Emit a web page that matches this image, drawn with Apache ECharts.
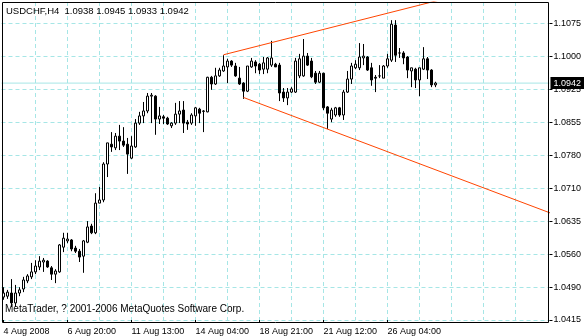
<!DOCTYPE html>
<html><head><meta charset="utf-8">
<script src="https://cdn.jsdelivr.net/npm/echarts@6/dist/echarts.min.js"></script>
<style>html,body{margin:0;padding:0;background:#fff}#c{width:584px;height:336px}</style>
</head><body><div id="c"></div>
<script>
// USDCHF H4 candles (open, close, low, high)
const opens = [1.0466,1.0468,1.0475,1.0453,1.0475,1.0484,1.0502,1.0511,1.0522,1.0533,1.0544,1.0546,1.0531,1.0517,1.0522,1.0577,1.0591,1.0593,1.0575,1.0568,
1.0557,1.0588,1.0624,1.0609,1.0675,1.0682,1.0762,1.0806,1.0798,1.0824,1.0813,1.0806,1.0775,1.0800,1.0853,1.0869,1.0880,1.0913,1.0913,1.0862,
1.0867,1.0864,1.0847,1.0853,1.0873,1.0882,1.0855,1.0853,1.0869,1.0884,1.0879,1.0878,1.0955,1.0940,1.0958,1.0969,1.0978,1.0991,1.0980,1.0953,
1.0942,1.0924,1.0978,1.0989,1.0984,1.0973,1.0973,1.0982,1.0984,1.0982,1.0922,1.0909,1.0922,1.0922,1.0958,1.0958,1.1002,1.0991,1.0964,1.0944,
1.0964,1.0889,1.0862,1.0871,1.0887,1.0871,1.0922,1.0951,1.0976,1.0976,1.0998,1.1000,1.0976,1.0955,1.0958,1.0953,1.0980,1.0993,1.1071,1.1009,
1.1009,1.1000,1.0969,1.0973,1.0949,1.0973,1.0996,1.0971,1.0938];
const closes = [1.0475,1.0477,1.0453,1.0475,1.0482,1.0504,1.0513,1.0522,1.0535,1.0546,1.0548,1.0533,1.0517,1.0524,1.0582,1.0597,1.0595,1.0573,1.0568,1.0555,
1.0591,1.0622,1.0609,1.0675,1.0682,1.0762,1.0809,1.0800,1.0824,1.0813,1.0804,1.0784,1.0802,1.0853,1.0869,1.0880,1.0913,1.0915,1.0862,1.0869,
1.0864,1.0851,1.0853,1.0873,1.0880,1.0853,1.0851,1.0871,1.0887,1.0875,1.0880,1.0955,1.0940,1.0958,1.0971,1.0980,1.0991,1.0982,1.0958,1.0940,
1.0924,1.0980,1.0991,1.0980,1.0971,1.0987,1.0998,1.0998,1.0978,1.0920,1.0909,1.0922,1.0929,1.0991,1.0996,1.1002,1.0982,1.0956,1.0944,1.0964,
1.0887,1.0875,1.0882,1.0887,1.0871,1.0922,1.0951,1.0980,1.0984,1.1000,1.1002,1.0971,1.0949,1.0953,1.0958,1.0980,1.0996,1.1073,1.1004,1.1009,
1.0998,1.0971,1.0976,1.0949,1.0976,1.0996,1.0971,1.0938,1.0942];
const lows = [1.0460,1.0462,1.0444,1.0444,1.0468,1.0477,1.0497,1.0506,1.0517,1.0526,1.0522,1.0531,1.0504,1.0497,1.0520,1.0566,1.0586,1.0568,1.0564,1.0544,
1.0520,1.0586,1.0606,1.0606,1.0675,1.0677,1.0733,1.0789,1.0793,1.0793,1.0800,1.0740,1.0773,1.0798,1.0849,1.0853,1.0875,1.0853,1.0827,1.0851,
1.0851,1.0849,1.0842,1.0849,1.0853,1.0831,1.0838,1.0849,1.0847,1.0853,1.0833,1.0877,1.0927,1.0938,1.0956,1.0967,1.0942,1.0978,1.0956,1.0938,
1.0907,1.0922,1.0976,1.0964,1.0962,1.0962,1.0964,1.0978,1.0978,1.0902,1.0900,1.0893,1.0920,1.0920,1.0953,1.0956,1.0980,1.0953,1.0940,1.0942,
1.0882,1.0840,1.0855,1.0867,1.0867,1.0860,1.0920,1.0940,1.0973,1.0971,1.0982,1.0969,1.0936,1.0922,1.0953,1.0953,1.0976,1.0989,1.0989,1.0998,
1.0984,1.0953,1.0933,1.0931,1.0913,1.0971,1.0951,1.0933,1.0933];
const highs = [1.0488,1.0482,1.0506,1.0493,1.0488,1.0511,1.0517,1.0542,1.0548,1.0557,1.0553,1.0548,1.0535,1.0528,1.0584,1.0609,1.0609,1.0595,1.0580,1.0573,
1.0593,1.0635,1.0629,1.0697,1.0711,1.0766,1.0809,1.0833,1.0831,1.0849,1.0844,1.0820,1.0824,1.0862,1.0878,1.0900,1.0920,1.0920,1.0915,1.0889,
1.0871,1.0867,1.0855,1.0898,1.0902,1.0902,1.0860,1.0875,1.0889,1.0887,1.0882,1.0956,1.0958,1.0976,1.0976,1.1004,1.0996,1.0993,1.0987,1.0978,
1.0944,1.0980,1.0998,1.0993,1.0987,1.1000,1.1000,1.1036,1.0987,1.0987,1.0931,1.0931,1.0933,1.0998,1.1007,1.1040,1.1009,1.0998,1.0969,1.0969,
1.0965,1.0891,1.0887,1.0889,1.0889,1.0927,1.0969,1.0987,1.0993,1.1031,1.1029,1.1002,1.0987,1.0960,1.0982,1.0982,1.1007,1.1082,1.1082,1.1020,
1.1013,1.1002,1.0976,1.0976,1.0976,1.1022,1.1000,1.0973,1.0945];

const slotCount = 137;                 // bar slots across the chart (incl. empty right shift)
const xTickIndex = [0,16,32,48,64,80,96];
const xTickLabels = ['4 Aug 2008','6 Aug 20:00','11 Aug 13:00','14 Aug 04:00','18 Aug 21:00','21 Aug 12:00','26 Aug 04:00'];
const yTickLabels = ['1.0415','1.0490','1.0560','1.0635','1.0710','1.0780','1.0855','1.0925','1.1000','1.1075'];
const upperTrend = [[55,1.1005],[110,1.1129]];
const lowerTrend = [[60,1.0910],[140,1.0642]];
const lastPrice = 1.0942;
const titleText = 'USDCHF,H4  1.0938 1.0945 1.0933 1.0942';
const footerText = 'MetaTrader, ? 2001-2006 MetaQuotes Software Corp.';

const categories = [];
for (let i = 0; i < slotCount; i++) categories.push(String(i));
const candleData = opens.map((o, i) => [o, closes[i], lows[i], highs[i]]);
const priceLine = [[-0.5, lastPrice], [136.5, lastPrice]];

const GRID = '#a6e6e6';
const FONT = 'Liberation Sans';
const chart = echarts.init(document.getElementById('c'), null, {renderer: 'canvas'});
chart.setOption({
  animation: false,
  backgroundColor: '#fff',
  grid: {left: 1.5, right: 34.5, top: 2, bottom: 16, containLabel: false},
  xAxis: [{
    type: 'category', data: categories, boundaryGap: true, offset: 3,
    axisLine: {show: false},
    axisTick: {show: true, length: 3, alignWithLabel: true,
      interval: (i) => xTickIndex.indexOf(i) >= 0, lineStyle: {color: '#000', width: 1}},
    axisLabel: {show: true, interval: (i) => xTickIndex.indexOf(i) >= 0, align: 'left', margin: 4,
      color: '#000', fontSize: 9, fontFamily: FONT,
      formatter: (v, i) => { const k = xTickIndex.indexOf(i); return k >= 0 ? xTickLabels[k] : ''; }},
    splitLine: {show: true, alignWithLabel: true, interval: (i) => i > 0 && i < 136 && i % 8 === 0,
      lineStyle: {color: GRID, type: [4, 3], width: 1}}
  }, {
    type: 'value', min: -0.5, max: 136.5, show: false
  }],
  yAxis: [{
    type: 'value', min: 1.0415, max: 1.11224, show: false, splitLine: {show: false}
  }, {
    type: 'value', min: 0, max: 9.646, interval: 1, position: 'right',
    axisLine: {show: false},
    axisTick: {show: true, length: 3, customValues: [0,1,2,3,4,5,6,7,8,9], lineStyle: {color: '#000'}},
    axisLabel: {show: true, customValues: [0,1,2,3,4,5,6,7,8,9], margin: 4, color: '#000', fontSize: 9, fontFamily: FONT,
      formatter: (v) => (Number.isInteger(v) && yTickLabels[v]) ? yTickLabels[v] : ''},
    splitLine: {show: true, lineStyle: {color: GRID, type: [4, 3], width: 1}}
  }],
  series: [{
    type: 'line', xAxisIndex: 1, yAxisIndex: 0, data: priceLine, symbol: 'none', clip: true, silent: true, z: 1,
    lineStyle: {color: GRID, width: 1, type: 'solid'},
    endLabel: {show: true, formatter: lastPrice.toFixed(4), color: '#fff', backgroundColor: '#000',
      padding: [2, 3, 1, 3], distance: 1, fontSize: 9, fontFamily: FONT}
  }, {
    type: 'candlestick', xAxisIndex: 0, yAxisIndex: 0, data: candleData, barWidth: 2, z: 2,
    itemStyle: {color: '#fff', color0: '#000', borderColor: '#000', borderColor0: '#000', borderColorDoji: '#000', borderWidth: 1},
    emphasis: {disabled: true}, silent: true
  }, {
    type: 'line', xAxisIndex: 1, yAxisIndex: 0, data: upperTrend, symbol: 'none', clip: true, silent: true,
    lineStyle: {color: '#ff4500', width: 1}, z: 3
  }, {
    type: 'line', xAxisIndex: 1, yAxisIndex: 0, data: lowerTrend, symbol: 'none', clip: true, silent: true,
    lineStyle: {color: '#ff4500', width: 1}, z: 3
  }],
  graphic: [
    {type: 'rect', z: 100, silent: true, shape: {x: 2.5, y: 2.5, width: 546, height: 320},
      style: {fill: 'none', stroke: '#000', lineWidth: 1}},
    {type: 'text', z: 101, x: 6, y: 11, silent: true,
      style: {text: titleText, fill: '#000', fontSize: 9.5, fontFamily: FONT, verticalAlign: 'middle', align: 'left'}},
    {type: 'text', z: 101, x: 5, y: 309.5, silent: true,
      style: {text: footerText, fill: '#000', fontSize: 10, fontFamily: FONT, verticalAlign: 'middle', align: 'left'}}
  ]
});
</script>
</body></html>
